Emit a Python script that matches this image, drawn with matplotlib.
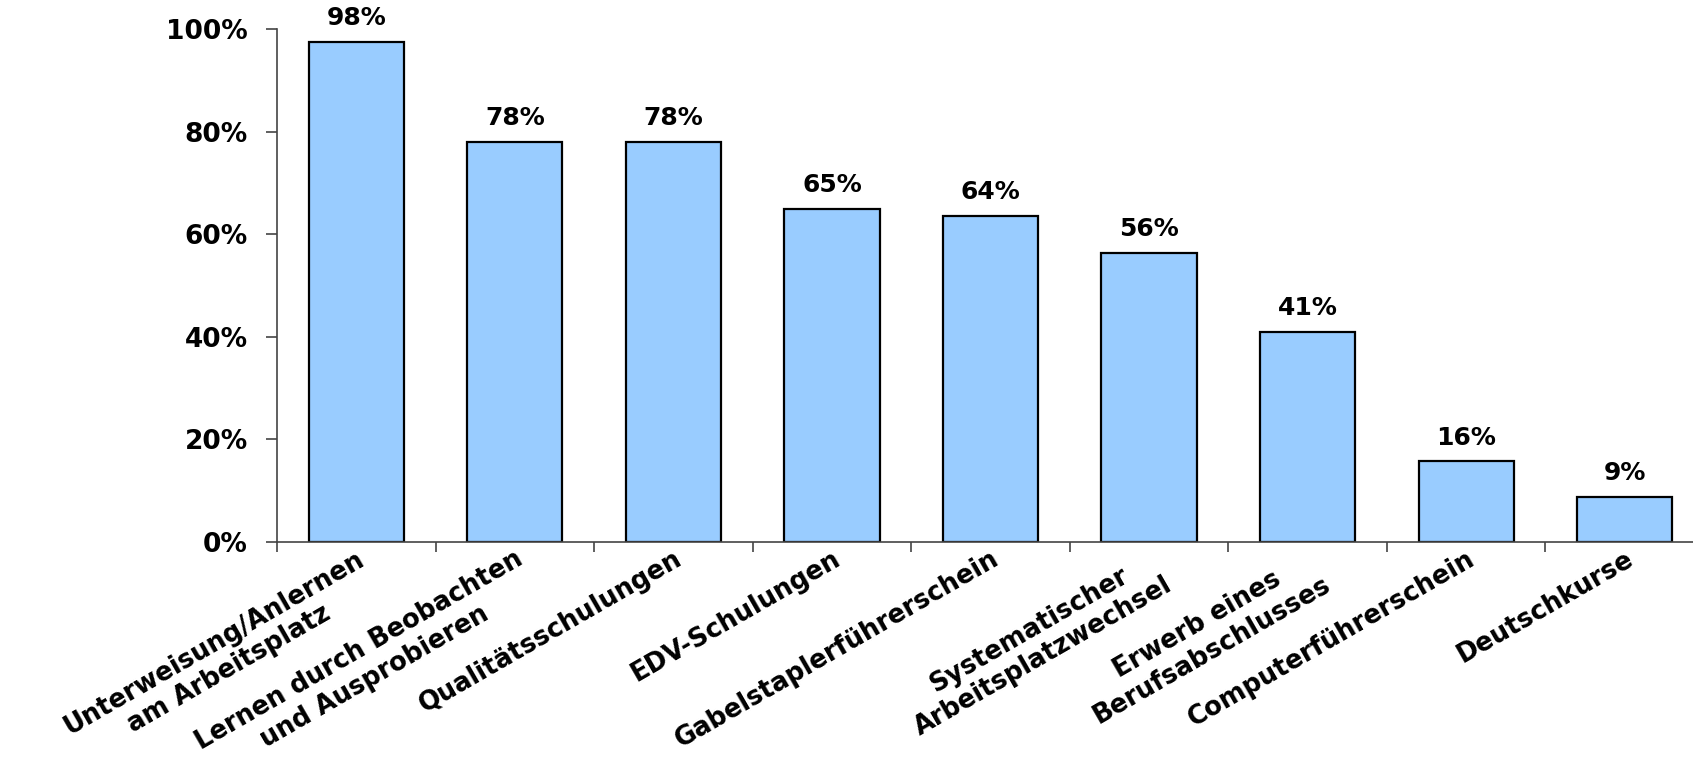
import numpy as np
import matplotlib
matplotlib.use("Agg")
import matplotlib.pyplot as plt
import matplotlib.transforms as mtransforms
from matplotlib.ticker import FixedLocator

# -----------------------------
# DATA
# -----------------------------
categories = [
    "Unterweisung/Anlernen\nam Arbeitsplatz",
    "Lernen durch Beobachten\nund Ausprobieren",
    "Qualitätsschulungen",
    "EDV-Schulungen",
    "Gabelstaplerführerschein",
    "Systematischer\nArbeitsplatzwechsel",
    "Erwerb eines\nBerufsabschlusses",
    "Computerführerschein",
    "Deutschkurse",
]
values = [97.5, 78.0, 78.0, 65.0, 63.6, 56.3, 40.9, 15.7, 8.8]
y_ticks = [0, 20, 40, 60, 80, 100]

# -----------------------------
# PLOT
# -----------------------------
plt.rcParams["font.family"] = ["DejaVu Sans"]
plt.rcParams["font.weight"] = "bold"

fig = plt.figure(figsize=(16.93, 7.75), dpi=100)
ax = fig.add_axes([277 / 1693, 233 / 775, 1427 / 1693, 513 / 775])

x = np.arange(len(categories))
ax.bar(x, values, width=0.6, color="#99CCFF", edgecolor="black", linewidth=1.6)

for xi, v in zip(x, values):
    ax.text(xi, v + 2.3, f"{v:.0f}%", ha="center", va="bottom",
            fontsize=18, fontweight="bold")

ax.set_xlim(-0.5, len(categories) - 0.5)
ax.set_ylim(0, 100)
ax.yaxis.set_major_locator(FixedLocator(y_ticks))
ax.set_yticklabels([f"{t}%" for t in y_ticks], fontsize=19, fontweight="bold")

ax.set_xticks(x)
ax.set_xticklabels(categories, rotation=30, ha="right", va="top",
                   rotation_mode="anchor", multialignment="center",
                   fontsize=18.5, fontweight="bold", linespacing=1.2)
# shift labels a bit to the right like the original
offset = mtransforms.ScaledTranslation(14 / 100, 0, fig.dpi_scale_trans)
for lab in ax.get_xticklabels():
    lab.set_transform(lab.get_transform() + offset)

ax.xaxis.set_minor_locator(FixedLocator(np.arange(-0.5, len(categories), 1)))
ax.tick_params(axis="x", which="major", length=0, pad=3)
ax.tick_params(axis="x", which="minor", length=7, width=1.2, color="#444444")
ax.tick_params(axis="y", length=8, width=1.2, color="#444444", pad=13)

for s in ["top", "right"]:
    ax.spines[s].set_visible(False)
for s in ["left", "bottom"]:
    ax.spines[s].set_color("#444444")
    ax.spines[s].set_linewidth(1.2)

fig.savefig("out.png", dpi=100)
